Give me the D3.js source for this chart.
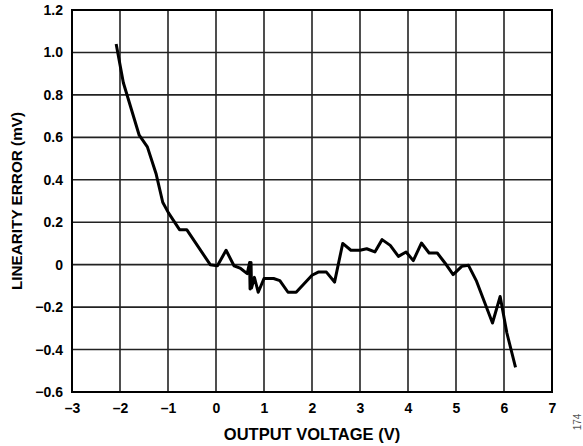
<!DOCTYPE html>
<html>
<head>
<meta charset="utf-8">
<script src="https://cdn.jsdelivr.net/npm/d3@7"></script>
<style>
  body { margin: 0; background: #fff; }
  text { font-family: "Liberation Sans", Arial, sans-serif; font-weight: bold; }
</style>
</head>
<body>
<div id="chart"></div>
<script>
// Data
const outputVoltage = [-2.08, -1.93, -1.6, -1.43, -1.25, -1.11, -0.99, -0.76, -0.61, -0.12, 0.03, 0.21, 0.375, 0.5, 0.65,
  0.70, 0.71, 0.73, 0.74, 0.80, 0.88, 1.0, 1.2, 1.33, 1.5, 1.67, 2.0, 2.13, 2.3, 2.47, 2.64, 2.81, 3.0, 3.14, 3.31,
  3.46, 3.63, 3.8, 3.96, 4.11, 4.28, 4.44, 4.61, 4.77, 4.94, 5.12, 5.26, 5.43, 5.76, 5.92, 6.06, 6.24];
const linearityError = [1.04, 0.857, 0.61, 0.555, 0.43, 0.294, 0.244, 0.165, 0.165, 0.0, -0.005, 0.068, -0.005, -0.016, -0.042,
  0.01, -0.115, 0.01, -0.11, -0.06, -0.13, -0.065, -0.065, -0.075, -0.13, -0.13, -0.05, -0.035, -0.035, -0.082, 0.1, 0.068, 0.068, 0.075, 0.06,
  0.118, 0.091, 0.039, 0.06, 0.019, 0.102, 0.055, 0.055, 0.008, -0.047, -0.008, -0.003, -0.079, -0.275, -0.15, -0.322, -0.484];
const xTicks = [-3, -2, -1, 0, 1, 2, 3, 4, 5, 6, 7];
const yTicks = [-0.6, -0.4, -0.2, 0, 0.2, 0.4, 0.6, 0.8, 1.0, 1.2];

const W = 583, H = 446;
const margin = { top: 10, right: 31, bottom: 54, left: 72 };
const width = W - margin.left - margin.right,
    height = H - margin.top - margin.bottom;

const svg = d3.select("#chart").append("svg")
    .attr("width", W)
    .attr("height", H);

const g = svg.append("g")
    .attr("transform", `translate(${margin.left},${margin.top})`);

const x = d3.scaleLinear().domain([-3, 7]).range([0, width]);
const y = d3.scaleLinear().domain([-0.6, 1.2]).range([height, 0]);

const fmtY = d => d === 0 ? "0" : d3.format(".1f")(d).replace("-", "\u2013");
const fmtX = d => String(d).replace("-", "\u2013");

// Grid
g.append("g")
  .selectAll("line")
  .data(xTicks)
  .join("line")
  .attr("x1", d => x(d)).attr("x2", d => x(d))
  .attr("y1", 0).attr("y2", height)
  .attr("stroke", "#222").attr("stroke-width", 1.6);

g.append("g")
  .selectAll("line")
  .data(yTicks)
  .join("line")
  .attr("x1", 0).attr("x2", width)
  .attr("y1", d => y(d)).attr("y2", d => y(d))
  .attr("stroke", "#222").attr("stroke-width", 1.6);

// Axes (labels only)
const xAxis = g.append("g")
  .attr("transform", `translate(0,${height})`)
  .call(d3.axisBottom(x).tickValues(xTicks).tickFormat(fmtX).tickSize(0).tickPadding(11));
xAxis.select(".domain").remove();
xAxis.selectAll("text").attr("font-size", 14).attr("fill", "#000");

const yAxis = g.append("g")
  .call(d3.axisLeft(y).tickValues(yTicks).tickFormat(fmtY).tickSize(0).tickPadding(9));
yAxis.select(".domain").remove();
yAxis.selectAll("text").attr("font-size", 14).attr("fill", "#000");

// Frame
g.append("rect")
  .attr("width", width).attr("height", height)
  .attr("fill", "none").attr("stroke", "#000").attr("stroke-width", 2);

// Data line
const pts = outputVoltage.map((v, i) => [v, linearityError[i]]);
g.append("path")
  .datum(pts)
  .attr("fill", "none")
  .attr("stroke", "#000")
  .attr("stroke-width", 3)
  .attr("stroke-linejoin", "round")
  .attr("d", d3.line().x(d => x(d[0])).y(d => y(d[1])));

// Axis titles
svg.append("text")
  .attr("x", margin.left + width / 2)
  .attr("y", 439.5)
  .attr("text-anchor", "middle")
  .attr("font-size", 16.5)
  .text("OUTPUT VOLTAGE (V)");

svg.append("text")
  .attr("transform", `translate(22,${margin.top + height / 2}) rotate(-90)`)
  .attr("text-anchor", "middle")
  .attr("font-size", 15.3)
  .text("LINEARITY ERROR (mV)");

svg.append("text")
  .attr("transform", "translate(581,422) rotate(-90)")
  .attr("text-anchor", "middle")
  .attr("font-size", 10)
  .style("font-weight", "normal")
  .attr("fill", "#555")
  .text("174");
</script>
</body>
</html>
